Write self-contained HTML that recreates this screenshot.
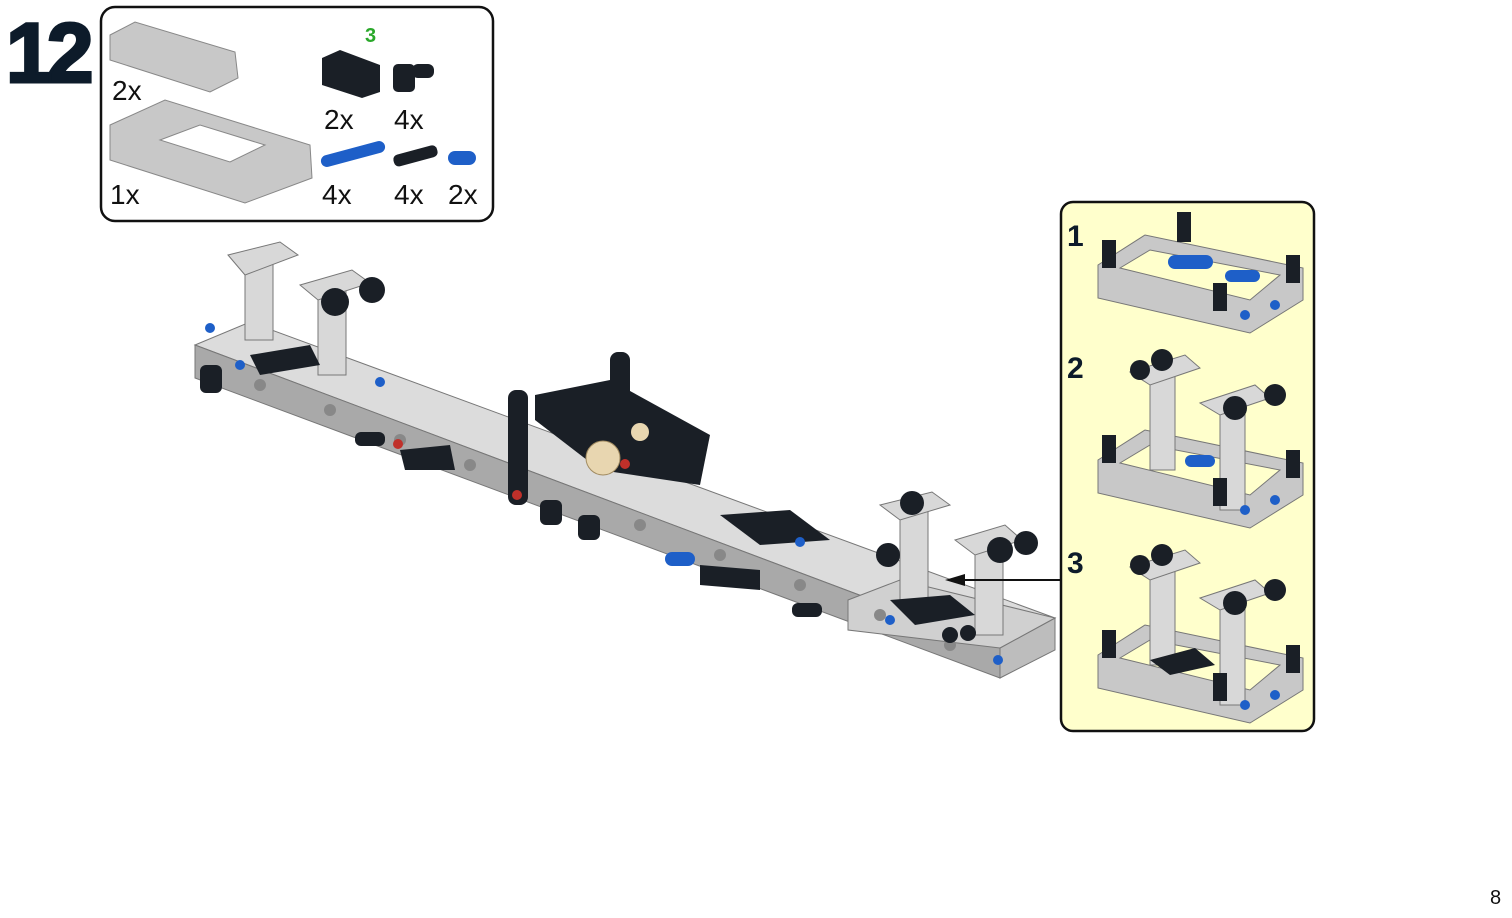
<!DOCTYPE html>
<html><head><meta charset="utf-8"><style>
html,body{margin:0;padding:0;background:#fff;}
body{width:1512px;height:918px;position:relative;overflow:hidden;font-family:"Liberation Sans",sans-serif;}
</style></head><body>
<svg width="1512" height="918" style="position:absolute;left:0;top:0">
<text x="6" y="82" font-family="Liberation Sans" font-weight="bold" font-size="84" fill="#0d1b2a" letter-spacing="-6" stroke="#0d1b2a" stroke-width="3">12</text>
<rect x="101" y="7" width="392" height="214" rx="14" fill="#fff" stroke="#111" stroke-width="2.5"/>
<g fill="#c8c8c8" stroke="#888" stroke-width="1">
<polygon points="110,35 135,22 235,52 238,78 210,92 110,60"/>
<polygon points="110,125 165,100 310,145 312,178 245,203 110,160"/>
</g>
<polygon points="160,140 200,125 265,145 230,162" fill="#fff" stroke="#888"/>
<g fill="#1a1f26">
<polygon points="322,58 340,50 380,65 380,92 362,98 322,85"/>
<rect x="393" y="64" width="22" height="28" rx="5"/><rect x="412" y="64" width="22" height="14" rx="6"/>
<rect x="393" y="150" width="45" height="12" rx="5" transform="rotate(-15 415 156)"/>
</g>
<g fill="#1e5fc8">
<rect x="320" y="148" width="66" height="12" rx="6" transform="rotate(-15 353 154)"/>
<rect x="448" y="151" width="28" height="14" rx="7"/>
</g>
<text x="365" y="42" font-size="20" font-weight="bold" fill="#2aa82a" font-family="Liberation Sans">3</text>
<g font-size="28" fill="#111" font-family="Liberation Sans">
<text x="112" y="100">2x</text><text x="324" y="129">2x</text><text x="394" y="129">4x</text>
<text x="110" y="204">1x</text><text x="322" y="204">4x</text><text x="394" y="204">4x</text><text x="448" y="204">2x</text>
</g>
<polygon points="195,345 250,322 1055,618 1000,648" fill="#dcdcdc" stroke="#777"/>
<polygon points="195,345 1000,648 1000,678 195,378" fill="#a9a9a9" stroke="#777"/>
<polygon points="1000,648 1055,618 1055,650 1000,678" fill="#bdbdbd" stroke="#777"/>
<polygon points="848,600 900,580 1055,618 1000,648 848,630" fill="#d0d0d0" stroke="#777"/>
<g fill="#888"><circle cx="260" cy="385" r="6"/><circle cx="330" cy="410" r="6"/><circle cx="400" cy="440" r="6"/><circle cx="470" cy="465" r="6"/><circle cx="640" cy="525" r="6"/><circle cx="720" cy="555" r="6"/><circle cx="800" cy="585" r="6"/><circle cx="880" cy="615" r="6"/><circle cx="950" cy="645" r="6"/></g>
<g fill="#d8d8d8" stroke="#777">
<rect x="245" y="255" width="28" height="85"/><polygon points="228,255 280,242 298,255 245,275"/>
<rect x="318" y="285" width="28" height="90"/><polygon points="300,285 352,270 370,283 318,300"/>
<rect x="900" y="505" width="28" height="100"/><polygon points="880,505 932,492 950,505 900,520"/>
<rect x="975" y="540" width="28" height="95"/><polygon points="955,540 1005,525 1022,540 975,555"/>
</g>
<g fill="#1a1f26">
<circle cx="335" cy="302" r="14"/><circle cx="372" cy="290" r="13"/>
<circle cx="1000" cy="550" r="13"/><circle cx="1026" cy="543" r="12"/>
<circle cx="888" cy="555" r="12"/><circle cx="912" cy="503" r="12"/>
<rect x="200" y="365" width="22" height="28" rx="6"/><rect x="540" y="500" width="22" height="25" rx="6"/><rect x="578" y="515" width="22" height="25" rx="6"/>
<polygon points="250,355 310,345 320,365 260,375"/>
<polygon points="535,395 610,380 710,435 700,485 600,470 535,420"/>
<rect x="508" y="390" width="20" height="115" rx="8"/>
<rect x="610" y="352" width="20" height="110" rx="8"/>
<polygon points="720,515 790,510 830,540 760,545"/>
<polygon points="890,600 950,595 975,615 915,625"/>
<polygon points="400,450 450,445 455,470 405,470"/>
<polygon points="700,565 760,570 760,590 700,585"/>
<rect x="355" y="432" width="30" height="14" rx="6"/><rect x="792" y="603" width="30" height="14" rx="6"/>
<circle cx="950" cy="635" r="8"/><circle cx="968" cy="633" r="8"/>
</g>
<circle cx="603" cy="458" r="17" fill="#e8d6b0" stroke="#a08a60"/>
<circle cx="640" cy="432" r="9" fill="#e8d6b0"/>
<rect x="665" y="552" width="30" height="14" rx="7" fill="#1e5fc8"/>
<g fill="#1e5fc8"><circle cx="210" cy="328" r="5"/><circle cx="240" cy="365" r="5"/><circle cx="380" cy="382" r="5"/><circle cx="800" cy="542" r="5"/><circle cx="890" cy="620" r="5"/><circle cx="998" cy="660" r="5"/></g>
<circle cx="398" cy="444" r="5" fill="#c0302a"/><circle cx="517" cy="495" r="5" fill="#c0302a"/><circle cx="625" cy="464" r="5" fill="#c0302a"/>
<line x1="1061" y1="580" x2="955" y2="580" stroke="#111" stroke-width="2"/>
<polygon points="945,580 965,574 965,586" fill="#111"/>
<rect x="1061" y="202" width="253" height="529" rx="12" fill="#ffffcc" stroke="#111" stroke-width="2.5"/>
<g font-family="Liberation Sans" font-weight="bold" font-size="30" fill="#0d1b2a">
<text x="1067" y="246">1</text><text x="1067" y="378">2</text><text x="1067" y="573">3</text>
</g>
<g stroke="#777">
<polygon points="1098,265 1145,235 1303,268 1303,300 1250,333 1098,298" fill="#c8c8c8"/>
<polygon points="1120,268 1150,250 1280,275 1250,300" fill="#ffffcc"/>
<polygon points="1098,460 1145,430 1303,463 1303,495 1250,528 1098,493" fill="#c8c8c8"/>
<polygon points="1120,463 1150,445 1280,470 1250,495" fill="#ffffcc"/>
<polygon points="1098,655 1145,625 1303,658 1303,690 1250,723 1098,688" fill="#c8c8c8"/>
<polygon points="1120,658 1150,640 1280,665 1250,690" fill="#ffffcc"/>
<g fill="#d8d8d8">
<rect x="1150" y="375" width="25" height="95"/><rect x="1220" y="405" width="25" height="105"/>
<rect x="1150" y="570" width="25" height="95"/><rect x="1220" y="600" width="25" height="105"/>
<polygon points="1130,372 1185,355 1200,368 1150,385"/><polygon points="1200,403 1255,385 1270,398 1220,415"/>
<polygon points="1130,567 1185,550 1200,563 1150,580"/><polygon points="1200,598 1255,580 1270,593 1220,610"/>
</g>
</g>
<g fill="#1a1f26">
<rect x="1177" y="212" width="14" height="30"/><rect x="1102" y="240" width="14" height="28"/><rect x="1286" y="255" width="14" height="28"/><rect x="1213" y="283" width="14" height="28"/>
<rect x="1102" y="435" width="14" height="28"/><rect x="1286" y="450" width="14" height="28"/><rect x="1213" y="478" width="14" height="28"/>
<circle cx="1162" cy="360" r="11"/><circle cx="1140" cy="370" r="10"/><circle cx="1235" cy="408" r="12"/><circle cx="1275" cy="395" r="11"/>
<rect x="1102" y="630" width="14" height="28"/><rect x="1286" y="645" width="14" height="28"/><rect x="1213" y="673" width="14" height="28"/>
<circle cx="1162" cy="555" r="11"/><circle cx="1140" cy="565" r="10"/><circle cx="1235" cy="603" r="12"/><circle cx="1275" cy="590" r="11"/>
<polygon points="1150,660 1195,648 1215,665 1170,675"/>
</g>
<g fill="#1e5fc8">
<rect x="1168" y="255" width="45" height="14" rx="7"/><rect x="1225" y="270" width="35" height="12" rx="6"/>
<circle cx="1245" cy="315" r="5"/><circle cx="1275" cy="305" r="5"/><circle cx="1245" cy="510" r="5"/><circle cx="1275" cy="500" r="5"/><circle cx="1245" cy="705" r="5"/><circle cx="1275" cy="695" r="5"/>
<rect x="1185" y="455" width="30" height="12" rx="6"/>
</g>
<text x="1490" y="904" font-size="20" fill="#111" font-family="Liberation Sans">8</text>
</svg>
</body></html>
